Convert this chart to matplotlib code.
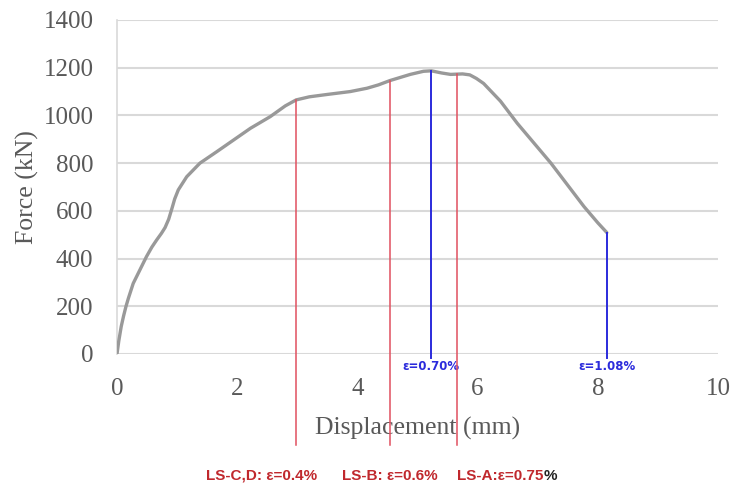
import matplotlib
matplotlib.use("Agg")
import matplotlib.pyplot as plt

# Load-displacement curve
displacement = [0.0, 0.03, 0.07, 0.11, 0.15, 0.19, 0.27, 0.38, 0.49, 0.58, 0.66, 0.74, 0.80,
                0.86, 0.92, 0.96, 1.02, 1.16, 1.38, 1.66, 1.94, 2.22, 2.55, 2.80, 2.98, 3.20,
                3.50, 3.88, 4.16, 4.35, 4.54, 4.88, 5.10, 5.23, 5.40, 5.55, 5.75, 5.87, 5.98,
                6.10, 6.38, 6.66, 7.22, 7.77, 8.00, 8.15]
force = [0, 55, 115, 160, 200, 234, 296, 352, 408, 448, 478, 506, 530,
         565, 615, 650, 688, 743, 800, 848, 897, 946, 995, 1040, 1065, 1078,
         1088, 1100, 1114, 1128, 1146, 1172, 1185, 1187, 1178, 1172, 1174, 1170, 1155,
         1134, 1060, 967, 800, 618, 550, 509]

# Limit-state markers (red) and strain markers (blue)
ls_disp = [2.98, 4.54, 5.66]
ls_force = [1065, 1146, 1172]
ls_labels = ["LS-C,D: ε=0.4%", "LS-B: ε=0.6%", "LS-A:ε=0.75"]

strain_disp = [5.23, 8.15]
strain_force = [1187, 509]
strain_labels = ["ε=0.70%", "ε=1.08%"]

x_ticks = [0, 2, 4, 6, 8, 10]
y_ticks = [0, 200, 400, 600, 800, 1000, 1200, 1400]

W, H = 734, 488
fig = plt.figure(figsize=(W / 100, H / 100), dpi=100)
ax = fig.add_axes([117 / W, 1 - 354 / H, (718 - 117) / W, (354 - 20) / H])

grid_c = "#d9d9d9"
text_c = "#595959"
serif = ["Liberation Serif", "DejaVu Serif"]

ax.set_xlim(0, 10)
ax.set_ylim(0, 1400)
ax.set_xticks(x_ticks)
ax.set_yticks(y_ticks)
ax.yaxis.grid(True, color=grid_c, linewidth=1.5)
ax.set_axisbelow(True)
for s in ["top", "right", "bottom"]:
    ax.spines[s].set_visible(False)
ax.spines["left"].set_color(grid_c)
ax.spines["left"].set_linewidth(1.2)
ax.tick_params(length=0, labelsize=18, labelcolor=text_c, pad=17)
ax.tick_params(axis="x", pad=17.5)
for lab in ax.get_xticklabels() + ax.get_yticklabels():
    lab.set_fontfamily(serif)

ax.set_xlabel("Displacement (mm)", fontsize=18.5, color=text_c, family=serif, labelpad=12)
ax.set_ylabel("Force (kN)", fontsize=18.5, color=text_c, family=serif, labelpad=3)

ax.plot(displacement, force, color="#999999", linewidth=2.4, solid_capstyle="round",
        solid_joinstyle="round", zorder=3)

red = "#e0505f"
blue = "#2b2bdc"
for x, f in zip(ls_disp, ls_force):
    ax.plot([x, x], [-380, f], color=red, linewidth=1.1, clip_on=False, zorder=4)
for x, f, t in zip(strain_disp, strain_force, strain_labels):
    ax.plot([x, x], [-17, f], color=blue, linewidth=1.4, clip_on=False, zorder=4)
    ax.text(x, -25, t, ha="center", va="top", fontsize=8.5, fontweight="bold",
            color=blue, family=["DejaVu Sans"])

txt_red = "#c0282d"
centers = [262, 390, 500]
last = None
for cx, t in zip(centers, ls_labels):
    last = fig.text(cx / W, 1 - 476 / H, t, ha="center", va="center", fontsize=11,
                    fontweight="bold", color=txt_red, family=["Liberation Sans", "DejaVu Sans"])
ax.annotate("%", xy=(1, 0), xycoords=last, va="bottom", ha="left", fontsize=11,
            fontweight="bold", color="#222222", family=["Liberation Sans", "DejaVu Sans"],
            annotation_clip=False)

fig.savefig("out.png", dpi=100, facecolor="white")
